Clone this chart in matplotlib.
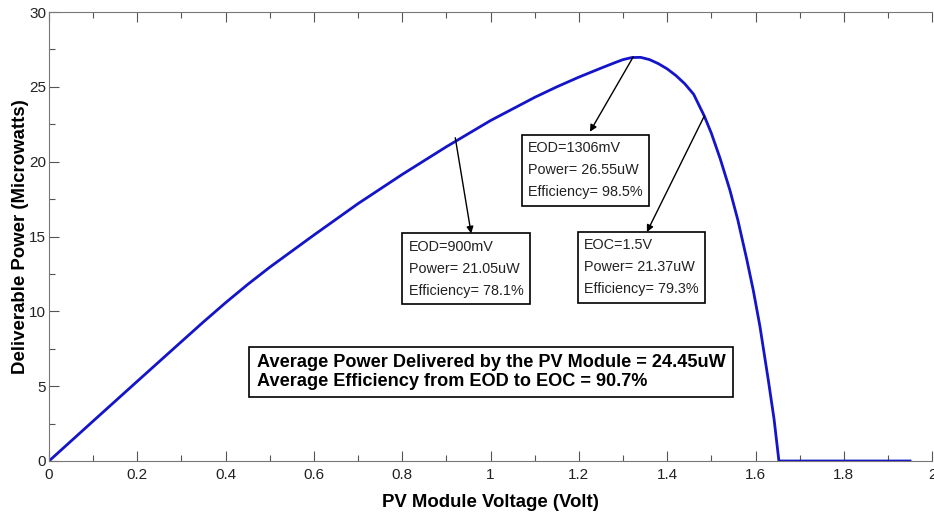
import matplotlib.pyplot as plt
import numpy as np

plt.rcParams['font.family'] = ['Liberation Sans', 'DejaVu Sans']

# PV module voltage (V) vs deliverable power (uW)
voltage = [0.0, 0.1, 0.2, 0.3, 0.35, 0.4, 0.45, 0.5, 0.6, 0.7, 0.8, 0.9, 1.0, 1.1,
           1.15, 1.2, 1.25, 1.28, 1.3, 1.32, 1.34, 1.36, 1.38, 1.4, 1.42, 1.44,
           1.46, 1.484, 1.5, 1.52, 1.542, 1.56, 1.58, 1.595, 1.61, 1.629, 1.642,
           1.653, 1.95]
power = [0.0, 2.67, 5.33, 7.98, 9.3, 10.58, 11.8, 12.95, 15.1, 17.2, 19.15, 21.0, 22.75, 24.3,
         25.0, 25.65, 26.25, 26.6, 26.82, 26.96, 26.97, 26.82, 26.55, 26.2, 25.75, 25.2,
         24.5, 23.05, 21.9, 20.2, 18.1, 16.1, 13.5, 11.4, 9.0, 5.4, 2.8,
         0.0, 0.0]

# annotated points on the curve and the labels
annot_v = [0.92, 1.323, 1.484]
annot_p = [21.6, 27.0, 23.05]
annot_text = ["EOD=900mV\nPower= 21.05uW\nEfficiency= 78.1%",
              "EOD=1306mV\nPower= 26.55uW\nEfficiency= 98.5%",
              "EOC=1.5V\nPower= 21.37uW\nEfficiency= 79.3%"]
summary = ("Average Power Delivered by the PV Module = 24.45uW\n"
           "Average Efficiency from EOD to EOC = 90.7%")

fig = plt.figure(figsize=(9.34, 5.16), dpi=100)
ax = fig.add_axes([0.0525, 0.1066, 0.9455, 0.8701])

ax.plot(voltage, power, color='#1414c8', lw=2.0)

ax.set_xlim(0, 2)
ax.set_ylim(0, 30)
ax.set_xticks(np.arange(0, 2.01, 0.2))
ax.set_xticklabels(['0', '0.2', '0.4', '0.6', '0.8', '1', '1.2', '1.4', '1.6', '1.8', '2'])
ax.set_xticks(np.arange(0.1, 2.0, 0.2), minor=True)
ax.set_yticks(np.arange(0, 31, 5))
ax.set_yticks(np.arange(2.5, 30, 5), minor=True)
ax.tick_params(which='both', direction='in', top=True, right=False,
               color='#555555', labelsize=11, labelcolor='#222222')
ax.tick_params(which='major', length=7, width=0.8)
ax.tick_params(axis='x', which='major', pad=5)
ax.tick_params(axis='y', which='major', pad=2)
ax.tick_params(which='minor', length=4, width=0.8)
for s in ['left', 'bottom', 'top']:
    ax.spines[s].set_color('#777777')
ax.spines['right'].set_visible(False)

ax.set_xlabel('PV Module Voltage (Volt)', fontsize=13.4, fontweight='bold', labelpad=9)
ax.set_ylabel('Deliverable Power (Microwatts)', fontsize=13.4, fontweight='bold', labelpad=0)

box = dict(boxstyle='square,pad=0.45', fc='white', ec='black', lw=1.2)
# label boxes: (text x, text y center) in data coords
box_pos = [(0.815, 12.86), (1.085, 19.44), (1.212, 12.96)]
arrow_heads = [(0.956, 15.2), (1.225, 22.0), (1.354, 15.3)]
for i in range(3):
    ax.text(box_pos[i][0], box_pos[i][1], annot_text[i], fontsize=10.4, va='center',
            ha='left', linespacing=1.73, color='#222222', bbox=box)
    ax.annotate('', xy=arrow_heads[i], xytext=(annot_v[i], annot_p[i]),
                arrowprops=dict(arrowstyle='-|>', color='black', lw=1.0,
                                mutation_scale=10, shrinkA=0, shrinkB=0))

ax.text(0.471, 5.95, summary, fontsize=13.1, fontweight='bold', va='center', ha='left',
        linespacing=1.12, color='black',
        bbox=dict(boxstyle='square,pad=0.42', fc='white', ec='black', lw=1.2))

fig.savefig('out.png', dpi=100)
